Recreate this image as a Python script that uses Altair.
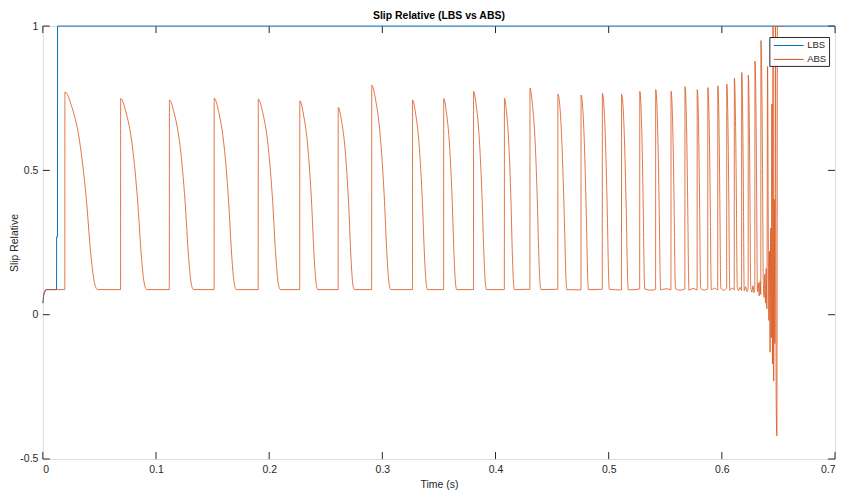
import altair as alt
import pandas as pd

# ---------------- data ----------------
lbs_t = [0.0, 0.0009, 0.0028, 0.01214, 0.01220, 0.01296, 0.01302, 0.7]
lbs_v = [0.040, 0.072, 0.087, 0.087, 0.270, 0.270, 1.0, 1.0]

abs_t = [
    0.0, 0.0009, 0.0028, 0.0194,
    0.01953, 0.02529, 0.03248, 0.03824, 0.04255, 0.04543, 0.04831, 0.06867,
    0.06877, 0.07336, 0.07910, 0.08369, 0.08713, 0.08943, 0.09172, 0.11176,
    0.11186, 0.11610, 0.12139, 0.12563, 0.12880, 0.13092, 0.13304, 0.15134,
    0.15144, 0.15532, 0.16018, 0.16406, 0.16698, 0.16892, 0.17086, 0.19029,
    0.19039, 0.19427, 0.19913, 0.20301, 0.20593, 0.20787, 0.20981, 0.22697,
    0.22707, 0.23025, 0.23422, 0.23740, 0.23978, 0.24137, 0.24296, 0.26092,
    0.26102, 0.26384, 0.26737, 0.27020, 0.27232, 0.27373, 0.27514, 0.29055,
    0.29065, 0.29400, 0.29820, 0.30155, 0.30407, 0.30574, 0.30742, 0.32661,
    0.32671, 0.32936, 0.33267, 0.33532, 0.33730, 0.33863, 0.33995, 0.35414,
    0.35424, 0.35654, 0.35941, 0.36170, 0.36342, 0.36457, 0.36572, 0.38052,
    0.38062, 0.38292, 0.38579, 0.38808, 0.38980, 0.39095, 0.39210, 0.40779,
    0.40789, 0.40966, 0.41186, 0.41363, 0.41495, 0.41584, 0.41672, 0.43038,
    0.43048, 0.43242, 0.43485, 0.43679, 0.43825, 0.43922, 0.44019, 0.45500,
    0.45510, 0.45828, 0.46066, 0.46225, 0.46304, 0.47550,
    0.47560, 0.47821, 0.48017, 0.48148, 0.48213, 0.49432,
    0.49442, 0.49689, 0.49875, 0.49998, 0.50060, 0.51129,
    0.51139, 0.51375, 0.51553, 0.51671, 0.51730, 0.52738,
    0.52748, 0.52924, 0.53057, 0.53145, 0.53189, 0.5370, 0.54145,
    0.54155, 0.54331, 0.54464, 0.54552, 0.54596, 0.5505, 0.55500,
    0.55510, 0.55669, 0.55788, 0.55867, 0.55907, 0.5630, 0.56731,
    0.56741, 0.56882, 0.56988, 0.57059, 0.57094, 0.5745, 0.57813,
    0.57823, 0.57947, 0.58039, 0.58101, 0.58132, 0.5845, 0.58753,
    0.58763, 0.58887, 0.58979, 0.59041, 0.59072, 0.5935, 0.59633,
    0.59643, 0.59749, 0.59829, 0.59882, 0.59908, 0.6017, 0.60425,
    0.60435, 0.60541, 0.60621, 0.60674, 0.60700, 0.6090, 0.61093,
    0.61103, 0.61209, 0.61289, 0.61342, 0.61368, 0.6148, 0.6160, 0.61744,
    0.61754, 0.61842, 0.61909, 0.61953, 0.61975, 0.6210, 0.6222, 0.62324,
    0.62334, 0.62422, 0.62489, 0.62533, 0.62555, 0.6265, 0.6275, 0.6284, 0.62914,
    0.62924, 0.63012, 0.63079, 0.63123, 0.63145, 0.6322, 0.6330, 0.6337, 0.63441,
    0.63451, 0.63539, 0.63606, 0.63650, 0.63672,
    0.63732, 0.63794, 0.63855, 0.63917, 0.63979, 0.64040, 0.64102, 0.64155,
    0.64208, 0.64261, 0.64314, 0.64367, 0.64420, 0.64473, 0.64526, 0.64579,
    0.64632, 0.64685, 0.64738, 0.64800, 0.64862, 0.64915, 0.64977, 0.6565,
]
abs_v = [
    0.040, 0.072, 0.087, 0.087,
    0.772, 0.724, 0.601, 0.409, 0.203, 0.114, 0.087, 0.087,
    0.749, 0.703, 0.584, 0.398, 0.200, 0.113, 0.087, 0.087,
    0.744, 0.698, 0.580, 0.396, 0.199, 0.113, 0.087, 0.087,
    0.750, 0.704, 0.584, 0.399, 0.200, 0.114, 0.087, 0.087,
    0.747, 0.701, 0.582, 0.397, 0.199, 0.113, 0.087, 0.087,
    0.741, 0.695, 0.578, 0.394, 0.198, 0.113, 0.087, 0.087,
    0.718, 0.674, 0.560, 0.384, 0.194, 0.112, 0.087, 0.087,
    0.795, 0.745, 0.618, 0.420, 0.207, 0.115, 0.087, 0.087,
    0.744, 0.698, 0.580, 0.396, 0.199, 0.113, 0.087, 0.087,
    0.749, 0.703, 0.584, 0.398, 0.200, 0.113, 0.087, 0.087,
    0.774, 0.726, 0.602, 0.410, 0.204, 0.114, 0.087, 0.087,
    0.750, 0.704, 0.584, 0.399, 0.200, 0.114, 0.087, 0.088,
    0.785, 0.736, 0.611, 0.415, 0.206, 0.115, 0.087, 0.088,
    0.764, 0.629, 0.358, 0.128, 0.087, 0.086,
    0.761, 0.626, 0.357, 0.127, 0.087, 0.088,
    0.767, 0.631, 0.359, 0.128, 0.088, 0.086,
    0.764, 0.629, 0.358, 0.128, 0.086, 0.089,
    0.774, 0.637, 0.362, 0.128, 0.089, 0.085, 0.088,
    0.780, 0.641, 0.364, 0.129, 0.086, 0.090, 0.087,
    0.774, 0.637, 0.362, 0.128, 0.090, 0.085, 0.089,
    0.790, 0.649, 0.368, 0.129, 0.085, 0.091, 0.086,
    0.780, 0.641, 0.364, 0.129, 0.091, 0.085, 0.090,
    0.787, 0.647, 0.367, 0.129, 0.086, 0.092, 0.086,
    0.793, 0.652, 0.369, 0.129, 0.092, 0.085, 0.091,
    0.799, 0.657, 0.372, 0.130, 0.084, 0.093, 0.086,
    0.820, 0.673, 0.380, 0.131, 0.093, 0.083, 0.095, 0.084,
    0.839, 0.689, 0.388, 0.132, 0.083, 0.097, 0.080, 0.095,
    0.830, 0.681, 0.384, 0.132, 0.095, 0.078, 0.100, 0.076, 0.098,
    0.879, 0.721, 0.404, 0.135, 0.080, 0.110, 0.065, 0.115, 0.070,
    0.950, 0.777, 0.432, 0.139, 0.100,
    0.06, 0.14, 0.04, 0.16, 0.02, 0.86, 0.30, -0.02,
    0.22, -0.13, 0.30, -0.08, 0.73, -0.17, 1.05, -0.23,
    0.40, -0.10, 1.08, -0.30, -0.42, 1.10, 1.0, 1.0,
]

x_ticks = [0, 0.1, 0.2, 0.3, 0.4, 0.5, 0.6, 0.7]
y_ticks = [-0.5, 0, 0.5, 1]
series_names = ["LBS", "ABS"]
series_colors = ["#0072BD", "#D95319"]

# ---------------- chart ----------------
W, H = 796, 435
FONT = "Liberation Sans"
AX = "#262626"

df = pd.concat([
    pd.DataFrame({"t": lbs_t, "v": lbs_v, "series": "LBS"}),
    pd.DataFrame({"t": abs_t, "v": abs_v, "series": "ABS"}),
], ignore_index=True)

xscale = alt.Scale(domain=[0, 0.7], nice=False, zero=False)
yscale = alt.Scale(domain=[-0.5, 1], nice=False, zero=False)

axis_style = dict(ticks=False, domain=False, grid=False,
                  labelFont=FONT, labelFontSize=10.5, labelColor=AX,
                  titleFont=FONT, titleFontSize=10.5, titleFontWeight="normal",
                  titleColor=AX, labelExpr="toString(datum.value)")
xaxis = alt.Axis(values=x_ticks, labelPadding=6, title="Time (s)",
                 titlePadding=4, **axis_style)
yaxis = alt.Axis(values=y_ticks, labelPadding=5, title="Slip Relative",
                 titlePadding=0, **axis_style)

color = alt.Color(
    "series:N",
    scale=alt.Scale(domain=series_names, range=series_colors),
    legend=alt.Legend(title=None, orient="none", legendX=730, legendY=11,
                      symbolType="M-2.5,0H2.5", symbolSize=144,
                      symbolStrokeWidth=1, symbolOffset=11,
                      labelFontSize=9.5, labelFont=FONT, labelColor=AX,
                      padding=2, strokeColor=AX, fillColor="white",
                      rowPadding=3, labelOffset=12, cornerRadius=0),
)

base = alt.Chart(df)
lbs_layer = base.transform_filter(alt.datum.series == "LBS").mark_line(
    strokeWidth=1, clip=False
).encode(
    x=alt.X("t:Q", scale=xscale, axis=xaxis),
    y=alt.Y("v:Q", scale=yscale, axis=yaxis),
    color=color,
)
abs_layer = base.transform_filter(alt.datum.series == "ABS").mark_line(
    strokeWidth=0.8, clip=True, interpolate="monotone"
).encode(
    x=alt.X("t:Q", scale=xscale, axis=xaxis),
    y=alt.Y("v:Q", scale=yscale, axis=yaxis),
    color=color,
)

xt = pd.DataFrame({"xt": x_ticks})
yt = pd.DataFrame({"yt": y_ticks})
tick_kw = dict(color=AX, strokeWidth=1)
bottom_ticks = alt.Chart(xt).mark_rule(**tick_kw).encode(
    x=alt.X("xt:Q", scale=xscale, axis=xaxis), y=alt.value(H), y2=alt.value(H - 7))
top_ticks = alt.Chart(xt).mark_rule(**tick_kw).encode(
    x=alt.X("xt:Q", scale=xscale, axis=xaxis), y=alt.value(0), y2=alt.value(7))
left_ticks = alt.Chart(yt).mark_rule(**tick_kw).encode(
    y=alt.Y("yt:Q", scale=yscale, axis=yaxis), x=alt.value(0), x2=alt.value(7))
right_ticks = alt.Chart(yt).mark_rule(**tick_kw).encode(
    y=alt.Y("yt:Q", scale=yscale, axis=yaxis), x=alt.value(W), x2=alt.value(W - 7))

chart = alt.layer(
    bottom_ticks, top_ticks, left_ticks, right_ticks, lbs_layer, abs_layer
).properties(
    width=W, height=H,
    title=alt.TitleParams("Slip Relative (LBS vs ABS)", fontSize=10.5,
                          fontWeight="bold", font=FONT, color="black",
                          anchor="middle", offset=0),
    autosize=alt.AutoSizeParams(type="none"),
    padding={"left": 35, "top": 17, "right": 5, "bottom": 38},
).configure_view(
    stroke=AX, strokeWidth=1
).configure(background="white")

chart.save("out.html", embed_options={"renderer": "svg", "actions": False})
